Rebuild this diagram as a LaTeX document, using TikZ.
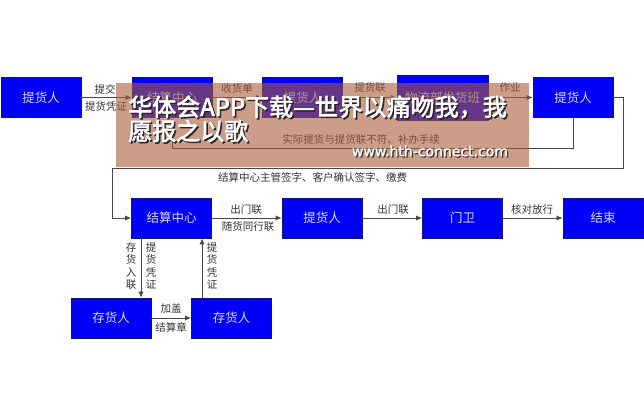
\documentclass[tikz,border=0pt]{standalone}
\usepackage{fontspec}
\setmainfont{Noto Sans CJK SC}
\newfontfamily\wmfont[FakeBold=2.5]{Noto Sans CJK SC}
\newfontfamily\wmlatin[FakeBold=1.5]{DejaVu Sans}
\usetikzlibrary{arrows.meta}
\definecolor{boxblue}{RGB}{0,0,248}
\definecolor{boxedge}{RGB}{20,20,120}
\definecolor{linegray}{RGB}{70,70,70}
\definecolor{wmbrown}{RGB}{170,93,59}
\tikzset{
  flowbox/.style={draw=boxedge, line width=0.6pt, fill=boxblue, text=white!85!blue,
    minimum width=80pt, minimum height=40pt, inner sep=0pt,
    font=\fontsize{12.5}{14}\selectfont},
  conn/.style={draw=linegray, line width=0.8pt, -{Latex[length=6pt,width=5pt]}},
  lbl/.style={font=\fontsize{10.5}{12}\selectfont, text=black!80, inner sep=1pt},
  vlbl/.style={font=\fontsize{10.5}{12.5}\selectfont, text=black!80, inner sep=0pt, align=center},
  wmtext/.style={font=\wmfont\fontsize{24}{25}\selectfont, anchor=west, inner sep=0pt},
  wmurl/.style={font=\wmlatin\fontsize{14}{15}\selectfont, inner sep=0pt},
}
\begin{document}
\begin{tikzpicture}[x=1pt,y=-1pt]
\useasboundingbox (0,0) rectangle (644,414);
% top row
\node[flowbox] (b1) at (41,97.5) {提货人};
\node[flowbox] (b2) at (172,97.5) {结算中心};
\node[flowbox] (b3) at (302.5,97.5) {提货人};
\node[flowbox, minimum width=91pt, minimum height=45pt] (b4) at (442.5,97.5) {物流部发货班};
\node[flowbox] (b5) at (573,97.5) {提货人};
% second row
\node[flowbox] (c1) at (171.5,218) {结算中心};
\node[flowbox] (c2) at (322,218) {提货人};
\node[flowbox] (c3) at (462.5,218) {门卫};
\node[flowbox] (c4) at (603,218) {结束};
% third row
\node[flowbox] (d1) at (111,318) {存货人};
\node[flowbox] (d2) at (231.5,318) {存货人};
% coordinates
\coordinate (i1) at (573,148);
\coordinate (i2) at (172,148);
\coordinate (o1) at (623,97.5);
\coordinate (o2) at (623,168);
\coordinate (o3) at (112,168);
\coordinate (o4) at (112,218);
% top row connectors
\draw[conn] (b1) -- (b2);
\node[lbl] (l1) at (105,89) {提交};
\node[lbl] (l2) at (106,106) {提货凭证};
\draw[conn] (b2) -- (b3);
\node[lbl] (l3) at (237,88) {收货单};
\draw[conn] (b3) -- (b4);
\node[lbl] (l4) at (370,88) {提货联};
\draw[conn] (b4) -- (b5);
\node[lbl] (l5) at (510,88) {作业};
% inner loop
\draw[conn] (b5.south) -- (i1) -- (i2) -- (b2.south);
\node[lbl] (l6) at (361,139.5) {实际提货与提货联不符、补办手续};
% outer loop
\draw[conn] (b5.east) -- (o1) -- (o2) -- (o3) -- (o4) -- (c1.west);
\node[lbl, anchor=west] (l7) at (217,177) {结算中心主管签字、客户确认签字、缴费};
% second row connectors
\draw[conn] (c1) -- (c2);
\node[lbl] (l8) at (246,210) {出门联};
\node[lbl] (l9) at (248,227) {随货同行联};
\draw[conn] (c2) -- (c3);
\node[lbl] (l10) at (393,210) {出门联};
\draw[conn] (c3) -- (c4);
\node[lbl] (l11) at (532,210) {核对放行};
% vertical connectors
\draw[conn] (c1.south -| 141,0) -- (d1.north -| 141,0);
\node[vlbl] (l12) at (131,266) {存\\货\\入\\联};
\node[vlbl] (l13) at (151,266) {提\\货\\凭\\证};
\draw[conn] (d2.north -| 202,0) -- (c1.south -| 202,0);
\node[vlbl] (l14) at (212,266) {提\\货\\凭\\证};
\draw[conn] (d1) -- (d2);
\node[lbl] (l15) at (171,309) {加盖};
\node[lbl] (l16) at (171,327) {结算章};
% semi-transparent watermark band
\fill[wmbrown, opacity=0.6] (116,83) rectangle (529,167);
\node[wmtext, text=black!85] (s1) at (129.5,108.5) {华体会APP下载—世界以痛吻我，我};
\node[wmtext, text=black!85] (s2) at (129.5,132.5) {愿报之以歌};
\node[wmurl, text=black!80] (s3) at (431.2,152.2) {www.hth-connect.com};
\node[wmtext, text=white] (w1) at (128,107) {华体会APP下载—世界以痛吻我，我};
\node[wmtext, text=white] (w2) at (128,131) {愿报之以歌};
\node[wmurl, text=white] (w3) at (430,151) {www.hth-connect.com};
\end{tikzpicture}
\end{document}
